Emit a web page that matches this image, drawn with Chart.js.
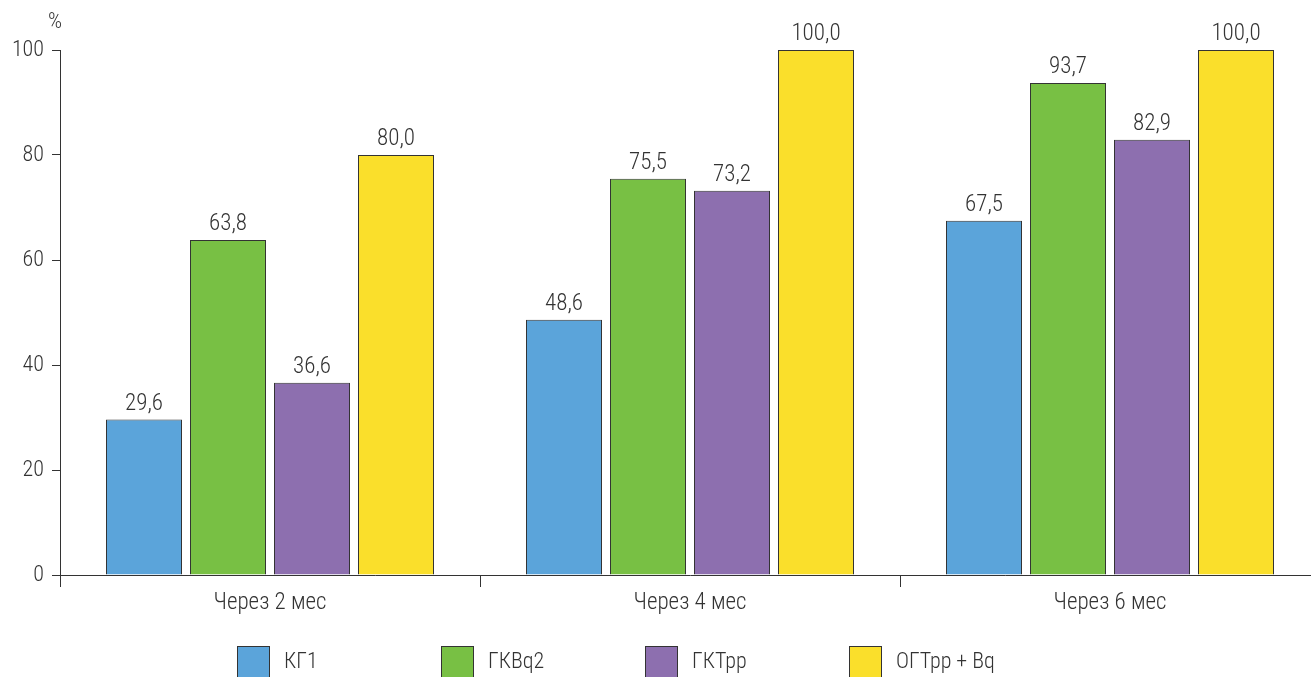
<!DOCTYPE html>
<html><head><meta charset="utf-8">
<script src="https://cdn.jsdelivr.net/npm/chart.js@4/dist/chart.umd.min.js"></script>
<style>
html,body{margin:0;padding:0;background:#fff;overflow:hidden;width:1311px;height:677px;}
#wrap{position:relative;width:1330px;height:677px;}
#legend{position:absolute;left:0;top:646px;width:1311px;height:40px;font-family:"Roboto Condensed","Liberation Sans Narrow",sans-serif;font-weight:300;font-size:22px;color:#333;}
.item{position:absolute;top:0;height:33px;}
.box{position:absolute;left:0;top:0;width:31px;height:33px;border:1px solid #333;}
.lbl{position:absolute;left:47px;top:2px;white-space:nowrap;}
</style></head>
<body>
<div id="wrap"><canvas id="c" width="1330" height="677"></canvas><div id="legend"></div></div>
<script>
const categories = ["Через 2 мес", "Через 4 мес", "Через 6 мес"];
const seriesNames = ["КГ1", "ГКВq2", "ГКТрр", "ОГТрр + Bq"];
const kg1 = [29.6, 48.6, 67.5];
const gkbq2 = [63.8, 75.5, 93.7];
const gktrr = [36.6, 73.2, 82.9];
const ogtrrBq = [80.0, 100.0, 100.0];
const yTicks = [0, 20, 40, 60, 80, 100];
const colors = ["#5BA4DA", "#78C044", "#8D6FAF", "#FADF2B"];
const legendX = [237, 441, 645, 849];

const FONT = '"Roboto Condensed","Liberation Sans Narrow",sans-serif';
const seriesData = [kg1, gkbq2, gktrr, ogtrrBq];

const labelPlugin = {
  id: 'valueLabels',
  afterDatasetsDraw(chart) {
    const ctx = chart.ctx;
    ctx.save();
    ctx.font = '300 23px ' + FONT;
    ctx.fillStyle = '#333';
    ctx.textAlign = 'center';
    ctx.textBaseline = 'alphabetic';
    chart.data.datasets.forEach((ds, i) => {
      chart.getDatasetMeta(i).data.forEach((bar, j) => {
        ctx.fillText(ds.data[j].toFixed(1).replace('.', ','), bar.x, bar.y - 10);
      });
    });
    const ys = chart.scales.y;
    ctx.font = '300 22px ' + FONT;
    ctx.textBaseline = 'middle';
    ctx.fillText('%', ys.right - 5, 22);
    ctx.restore();
  }
};

new Chart(document.getElementById('c'), {
  type: 'bar',
  data: {
    labels: categories,
    datasets: seriesData.map((d, i) => ({
      label: seriesNames[i],
      data: d,
      backgroundColor: colors[i],
      borderColor: '#333',
      borderWidth: 1,
      categoryPercentage: 0.8,
      barPercentage: 0.905
    }))
  },
  options: {
    responsive: false,
    animation: false,
    layout: { padding: { top: 50, right: 10, left: 0, bottom: 0 } },
    plugins: { legend: { display: false }, tooltip: { enabled: false } },
    scales: {
      x: {
        offset: true,
        grid: { display: true, drawOnChartArea: false, drawTicks: true, tickLength: 12, color: '#333', offset: true },
        border: { display: true, color: '#333', width: 1 },
        ticks: { color: '#333', font: { family: FONT, size: 23, weight: '300' }, padding: 2 },
        afterFit(s) { s.height = 102; }
      },
      y: {
        min: 0, max: 100,
        afterBuildTicks(s) { s.ticks = yTicks.map(v => ({ value: v })); },
        grid: { display: true, drawOnChartArea: false, drawTicks: true, tickLength: 8, color: '#333' },
        border: { display: true, color: '#333', width: 1 },
        ticks: { color: '#333', font: { family: FONT, size: 22, weight: '300' }, padding: 8 },
        afterFit(s) { s.width = 60; }
      }
    }
  },
  plugins: [labelPlugin]
});

const lg = document.getElementById('legend');
seriesNames.forEach((n, i) => {
  const it = document.createElement('div');
  it.className = 'item';
  it.style.left = legendX[i] + 'px';
  it.innerHTML = '<div class="box" style="background:' + colors[i] + '"></div><div class="lbl"></div>';
  it.querySelector('.lbl').textContent = n;
  lg.appendChild(it);
});
</script>
</body></html>
